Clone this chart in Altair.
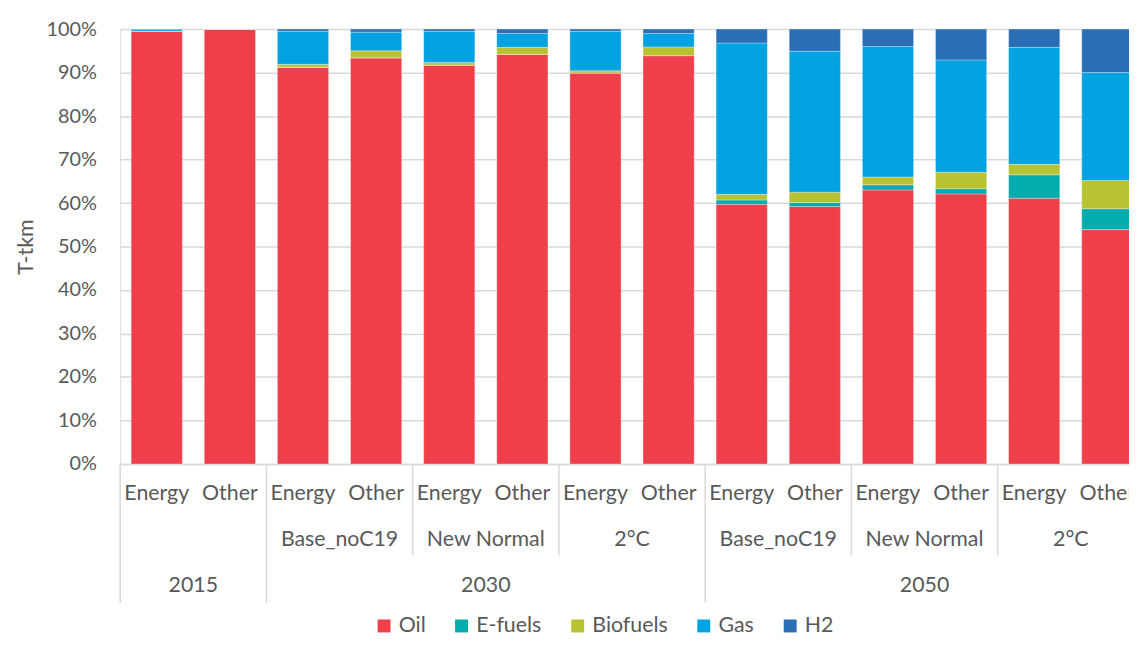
import altair as alt
import pandas as pd

# ---- data ----
years = ["2015", "2015", "2030", "2030", "2030", "2030", "2030", "2030",
         "2050", "2050", "2050", "2050", "2050", "2050"]
scenarios = ["", "", "Base_noC19", "Base_noC19", "New Normal", "New Normal", "2°C", "2°C",
             "Base_noC19", "Base_noC19", "New Normal", "New Normal", "2°C", "2°C"]
categories = ["Energy", "Other"] * 7

oil = [99.5, 100.0, 91.2, 93.4, 91.7, 94.2, 89.9, 93.9, 59.7, 59.2, 63.0, 62.1, 61.1, 53.9]
efuels = [0, 0, 0, 0, 0, 0, 0, 0, 1.0, 0.9, 1.2, 1.2, 5.4, 4.8]
biofuels = [0, 0, 0.7, 1.6, 0.6, 1.6, 0.5, 2.0, 1.3, 2.4, 1.8, 3.8, 2.4, 6.5]
gas = [0.5, 0, 7.6, 4.3, 7.2, 3.2, 9.1, 3.1, 34.8, 32.4, 30.0, 25.8, 26.9, 24.8]
h2 = [0, 0, 0.5, 0.7, 0.5, 1.0, 0.5, 1.0, 3.2, 5.1, 4.0, 7.1, 4.2, 10.0]

fuels = ["Oil", "E-fuels", "Biofuels", "Gas", "H2"]
fuel_colors = ["#EF3F4A", "#00ADAC", "#B9C232", "#00A2E1", "#2A6EB6"]
series = [oil, efuels, biofuels, gas, h2]

scenario_groups = ["Base_noC19", "New Normal", "2°C", "Base_noC19", "New Normal", "2°C"]
scenario_centers = [3, 5, 7, 9, 11, 13]
year_labels = ["2015", "2030", "2050"]
year_centers = [1, 5, 11]
full_separators = [0, 2, 8]
part_separators = [4, 6, 10, 12]

rows = []
for f_i, (fuel, vals) in enumerate(zip(fuels, series)):
    for i, v in enumerate(vals):
        rows.append({"idx": i, "fuel": fuel, "ord": f_i, "value": v / 100.0})
df = pd.DataFrame(rows)

cat_df = pd.DataFrame({"idx": list(range(14)), "cat": categories})
scen_df = pd.DataFrame({"pos": scenario_centers, "label": scenario_groups})
year_df = pd.DataFrame({"pos": year_centers, "label": year_labels})
full_df = pd.DataFrame({"pos": full_separators})
part_df = pd.DataFrame({"pos": part_separators})

W = 1016
H = 438
step = 1031 / 14.0
xmax = W / step
xscale = alt.Scale(domain=[0, xmax], nice=False, zero=False)
FONT = "Lato"
TXT = "#595959"
GRID = "#D9D9D9"
FS = 21.5

bars = alt.Chart(df).transform_stack(
    stack="value", groupby=["idx"], as_=["y0", "y1"],
    sort=[alt.SortField("ord", order="ascending")]
).transform_calculate(
    xa="datum.idx + 0.15", xb="datum.idx + 0.85"
).mark_bar(stroke="white", strokeWidth=1, strokeOpacity=0.3).encode(
    x=alt.X("xa:Q", scale=xscale,
            axis=alt.Axis(domain=True, domainColor=GRID, domainWidth=1.5,
                          labels=False, ticks=False, grid=False, title=None)),
    x2="xb:Q",
    y=alt.Y("y0:Q", scale=alt.Scale(domain=[0, 1], nice=False),
            axis=alt.Axis(values=[i / 10 for i in range(11)], format=".0%",
                          domain=False, ticks=False, grid=True, gridColor=GRID,
                          gridWidth=1.5, labelPadding=24, labelFontSize=20,
                          labelFont=FONT, labelColor=TXT, title="T-tkm",
                          titleFont=FONT, titleFontSize=FS, titleFontWeight="normal",
                          titleColor=TXT, titlePadding=8)),
    y2="y1:Q",
    color=alt.Color("fuel:N", scale=alt.Scale(domain=fuels, range=fuel_colors),
                    legend=alt.Legend(title=None, orient="none", direction="horizontal",
                                      legendX=255, legendY=590, symbolType="square",
                                      symbolSize=169, symbolStrokeWidth=0,
                                      labelFontSize=FS, labelFont=FONT, labelColor=TXT,
                                      labelOffset=4, columnPadding=25)),
    order=alt.Order("ord:Q"),
)

cat_text = alt.Chart(cat_df).transform_calculate(xc="datum.idx + 0.5").mark_text(
    font=FONT, fontSize=FS, color=TXT, baseline="middle", align="center"
).encode(x=alt.X("xc:Q", scale=xscale), y=alt.value(468), text="cat:N")

scen_text = alt.Chart(scen_df).mark_text(
    font=FONT, fontSize=FS, color=TXT, baseline="middle", align="center"
).encode(x=alt.X("pos:Q", scale=xscale), y=alt.value(515), text="label:N")

year_text = alt.Chart(year_df).mark_text(
    font=FONT, fontSize=FS, color=TXT, baseline="middle", align="center"
).encode(x=alt.X("pos:Q", scale=xscale), y=alt.value(561), text="label:N")

full_rules = alt.Chart(full_df).mark_rule(color=GRID, strokeWidth=1.5).encode(
    x=alt.X("pos:Q", scale=xscale), y=alt.value(H), y2=alt.value(578))
part_rules = alt.Chart(part_df).mark_rule(color=GRID, strokeWidth=1.5).encode(
    x=alt.X("pos:Q", scale=xscale), y=alt.value(H), y2=alt.value(530))

chart = alt.layer(full_rules, part_rules, bars, cat_text, scen_text, year_text).properties(
    width=W, height=H,
    autosize=alt.AutoSizeParams(type="none"),
    padding={"left": 113, "top": 19, "right": 0, "bottom": 174},
).configure_view(stroke=None).configure(background="white")

chart.save("out.html", embed_options={"renderer": "svg", "actions": False})
